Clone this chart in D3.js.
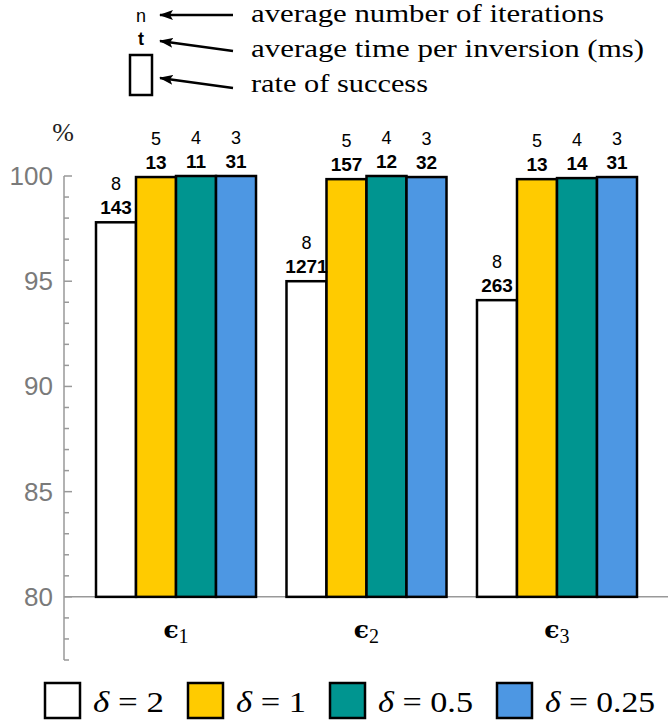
<!DOCTYPE html>
<html>
<head>
<meta charset="utf-8">
<script src="https://cdn.jsdelivr.net/npm/d3@7"></script>
<style>
  body { margin: 0; background: #fff; }
  svg { display: block; }
</style>
</head>
<body>
<div id="chart"></div>
<script>
// Success rate per noise level (epsilon) and step size (delta)
var groups = ['1', '2', '3'];                       // epsilon subscripts
var series = ['2', '1', '0.5', '0.25'];             // delta values
var seriesColors = ['#ffffff', '#ffcb00', '#009590', '#4d97e3'];

// rate of success (%), one row per group, in series order
var successRate = [
    [97.8, 99.95, 100, 100],
    [95.0, 99.85, 100, 99.95],
    [94.1, 99.85, 99.9, 99.95]
];
// average number of iterations
var iterations = [
    [8, 5, 4, 3],
    [8, 5, 4, 3],
    [8, 5, 4, 3]
];
// average time per inversion (ms)
var timeMs = [
    [143, 13, 11, 31],
    [1271, 157, 12, 32],
    [263, 13, 14, 31]
];

var yMajorTicks = [80, 85, 90, 95, 100];
var yMinorTicks = d3.range(77, 101, 1);

var SANS = 'Liberation Sans';
var SERIF = 'Liberation Serif';

var width = 668, height = 726;

var svg = d3.select('#chart').append('svg')
    .attr('width', width)
    .attr('height', height);

// --- Scales ---
var y = d3.scaleLinear().domain([77, 100]).range([660, 176]);
var x0 = d3.scaleBand().domain(groups).range([96, 637]).paddingInner(0.16).paddingOuter(0);
var x1 = d3.scaleBand().domain(series).range([0, x0.bandwidth()]).padding(0);
var axisX = 64;

// --- Y axis (gray, minor ticks every unit) ---
var axisG = svg.append('g').attr('class', 'y-axis');
axisG.append('line')
    .attr('x1', axisX).attr('x2', axisX)
    .attr('y1', y(77)).attr('y2', y(100))
    .attr('stroke', '#999').attr('stroke-width', 1.5);
axisG.selectAll('line.tick')
    .data(yMinorTicks)
    .join('line')
    .attr('class', 'tick')
    .attr('x1', axisX)
    .attr('x2', function (d) { return yMajorTicks.indexOf(d) >= 0 ? axisX + 8 : axisX + 5; })
    .attr('y1', function (d) { return y(d); })
    .attr('y2', function (d) { return y(d); })
    .attr('stroke', '#999').attr('stroke-width', 1.5);
axisG.selectAll('text')
    .data(yMajorTicks)
    .join('text')
    .attr('x', 53)
    .attr('y', function (d) { return y(d) + 9; })
    .attr('text-anchor', 'end')
    .style('font-family', SANS)
    .style('font-size', '26px')
    .attr('fill', '#7a7a7a')
    .text(function (d) { return d; });

svg.append('text')
    .attr('x', 63).attr('y', 141)
    .attr('text-anchor', 'middle')
    .style('font-family', SERIF)
    .style('font-size', '26px')
    .attr('fill', '#222')
    .text('%');

// baseline at 80
svg.append('line')
    .attr('x1', axisX).attr('x2', width)
    .attr('y1', y(80)).attr('y2', y(80))
    .attr('stroke', '#999').attr('stroke-width', 1.5);

// --- Bars ---
var groupG = svg.selectAll('g.group')
    .data(groups)
    .join('g')
    .attr('class', 'group')
    .attr('transform', function (g) { return 'translate(' + x0(g) + ',0)'; });

groupG.each(function (g, gi) {
    var sel = d3.select(this);
    var rows = series.map(function (s, si) {
        return { s: s, si: si, v: successRate[gi][si], n: iterations[gi][si], t: timeMs[gi][si] };
    });
    sel.selectAll('rect')
        .data(rows)
        .join('rect')
        .attr('x', function (d) { return x1(d.s); })
        .attr('width', x1.bandwidth())
        .attr('y', function (d) { return y(d.v); })
        .attr('height', function (d) { return y(80) - y(d.v); })
        .attr('fill', function (d) { return seriesColors[d.si]; })
        .attr('stroke', '#000')
        .attr('stroke-width', 2.5);

    sel.selectAll('text.n')
        .data(rows)
        .join('text')
        .attr('class', 'n')
        .attr('x', function (d) { return x1(d.s) + x1.bandwidth() / 2; })
        .attr('y', function (d) { return y(d.v) - 32; })
        .attr('text-anchor', 'middle')
        .style('font-family', SANS)
        .style('font-size', '18px')
        .attr('fill', '#000')
        .text(function (d) { return d.n; });

    sel.selectAll('text.t')
        .data(rows)
        .join('text')
        .attr('class', 't')
        .attr('x', function (d) { return x1(d.s) + x1.bandwidth() / 2; })
        .attr('y', function (d) { return y(d.v) - 8; })
        .attr('text-anchor', 'middle')
        .style('font-family', SANS)
        .style('font-weight', 'bold')
        .style('font-size', '19px')
        .attr('fill', '#000')
        .text(function (d) { return d.t; });

    // category label: bold lunate epsilon with subscript
    var lab = sel.append('text')
        .attr('x', x0.bandwidth() / 2)
        .attr('y', 638)
        .attr('text-anchor', 'middle')
        .attr('fill', '#000');
    lab.append('tspan')
        .style('font-family', 'DejaVu Serif')
        .style('font-weight', 'bold')
        .style('font-size', '25px')
        .text('\u03F5');
    lab.append('tspan')
        .attr('dy', 5)
        .style('font-family', SERIF)
        .style('font-size', '20px')
        .text(g);
});

// --- Top annotation key ---
var defs = svg.append('defs');
defs.append('marker')
    .attr('id', 'arrowhead')
    .attr('viewBox', '0 -5 14 10')
    .attr('refX', 13)
    .attr('refY', 0)
    .attr('markerWidth', 14)
    .attr('markerHeight', 10)
    .attr('markerUnits', 'userSpaceOnUse')
    .attr('orient', 'auto')
    .append('path')
    .attr('d', 'M14,0L0,-5L3,0L0,5Z')
    .attr('fill', '#000');

var keyG = svg.append('g').attr('class', 'key');
keyG.append('text')
    .attr('x', 141).attr('y', 22)
    .attr('text-anchor', 'middle')
    .style('font-family', SANS)
    .style('font-size', '18px')
    .text('n');
keyG.append('text')
    .attr('x', 141).attr('y', 45)
    .attr('text-anchor', 'middle')
    .style('font-family', SANS)
    .style('font-weight', 'bold')
    .style('font-size', '18px')
    .text('t');
keyG.append('rect')
    .attr('x', 130).attr('y', 55)
    .attr('width', 22).attr('height', 40)
    .attr('fill', '#fff')
    .attr('stroke', '#000')
    .attr('stroke-width', 2.5);

var arrows = [
    [233, 15, 160, 15],
    [233, 51, 160, 41],
    [233, 88, 160, 78]
];
keyG.selectAll('line.arrow')
    .data(arrows)
    .join('line')
    .attr('class', 'arrow')
    .attr('x1', function (d) { return d[0]; })
    .attr('y1', function (d) { return d[1]; })
    .attr('x2', function (d) { return d[2]; })
    .attr('y2', function (d) { return d[3]; })
    .attr('stroke', '#000')
    .attr('stroke-width', 2.5)
    .attr('marker-end', 'url(#arrowhead)');

var keyTexts = [
    ['average number of iterations', 22, 353],
    ['average time per inversion (ms)', 57, 393],
    ['rate of success', 92, 177]
];
keyG.selectAll('text.desc')
    .data(keyTexts)
    .join('text')
    .attr('class', 'desc')
    .attr('x', 251)
    .attr('y', function (d) { return d[1]; })
    .style('font-family', SERIF)
    .style('font-size', '25px')
    .attr('textLength', function (d) { return d[2]; })
    .attr('lengthAdjust', 'spacingAndGlyphs')
    .text(function (d) { return d[0]; });

// --- Legend ---
var legendX = [45, 188, 330, 497];
var legendTextLen = [71, 70, 95, 110];
var legend = svg.selectAll('g.legend')
    .data(series)
    .join('g')
    .attr('class', 'legend')
    .attr('transform', function (d, i) { return 'translate(' + legendX[i] + ',683)'; });
legend.append('rect')
    .attr('width', 35).attr('height', 35)
    .attr('fill', function (d, i) { return seriesColors[i]; })
    .attr('stroke', '#000')
    .attr('stroke-width', 2.5);
var lt = legend.append('text')
    .attr('x', 48)
    .attr('y', 29)
    .style('font-family', SERIF)
    .style('font-size', '29px')
    .attr('textLength', function (d, i) { return legendTextLen[i]; })
    .attr('lengthAdjust', 'spacingAndGlyphs');
lt.append('tspan').style('font-style', 'italic').text('\u03B4');
lt.append('tspan').text(function (d) { return ' = ' + d; });
</script>
</body>
</html>
